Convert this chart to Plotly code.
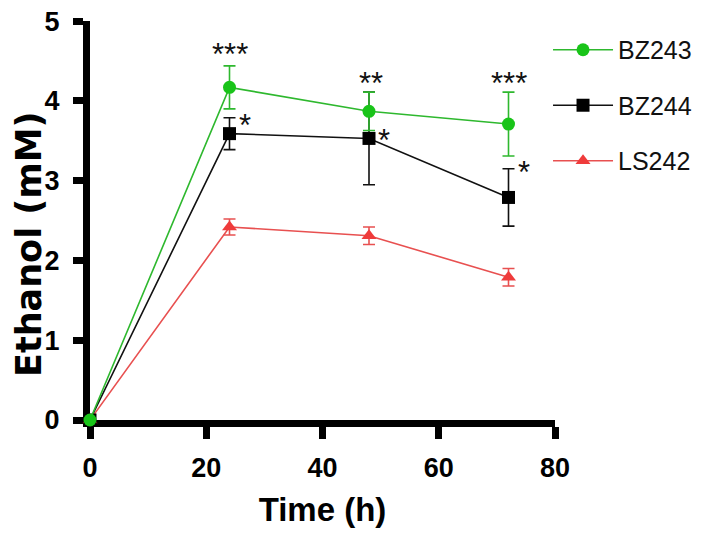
import plotly.graph_objects as go

# 数据：时间点与各菌株乙醇浓度 (mM)
time_h = [0, 24, 48, 72]

bz243_mean = [0.0, 4.17, 3.87, 3.71]
bz243_err = [0.0, 0.27, 0.24, 0.40]

bz244_mean = [0.0, 3.59, 3.53, 2.79]
bz244_err = [0.0, 0.20, 0.58, 0.36]

ls242_mean = [0.0, 2.42, 2.31, 1.79]
ls242_err = [0.0, 0.10, 0.11, 0.11]

# 显著性标记（文字, x, y）
sig_text = ["***", "*", "**", "*", "***", "*"]
sig_x = [24, 26.7, 48.4, 50.6, 72, 74.7]
sig_y = [4.69, 3.80, 4.33, 3.62, 4.33, 3.22]

TICK_FONT = "Liberation Sans, Arial, sans-serif"

series = [
    # name, mean, err, color, marker color, symbol, rank
    ("LS242", ls242_mean, ls242_err, "#e85050", "#ef3b3b", "triangle-up", 3),
    ("BZ244", bz244_mean, bz244_err, "#111111", "#000000", "square", 2),
    ("BZ243", bz243_mean, bz243_err, "#2eb82e", "#19c419", "circle", 1),
]

fig = go.Figure()
for name, mean, err, color, mcolor, symbol, rank in series:
    fig.add_trace(
        go.Scatter(
            x=time_h,
            y=mean,
            name=name,
            mode="lines+markers",
            line=dict(color=color, width=1.6),
            marker=dict(symbol=symbol, size=13, color=mcolor),
            error_y=dict(type="data", array=err, color=color, thickness=1.6, width=6),
            cliponaxis=False,
            legendrank=rank,
            legendgroup=name,
        )
    )

for t, x, y in zip(sig_text, sig_x, sig_y):
    fig.add_annotation(
        x=x, y=y, text=t, showarrow=False,
        font=dict(family="Liberation Sans, Arial, sans-serif", size=31, color="#111"),
        yshift=-9,
    )

# y 轴标题（原图略偏下）
fig.add_annotation(
    xref="paper", yref="paper", x=-0.13, y=0.44,
    text="Ethanol (mM)", textangle=-90, showarrow=False,
    xanchor="center", yanchor="middle",
    font=dict(family="DejaVu Sans, sans-serif", size=35, color="black", weight="bold"),
)

# 页面自带 8px 边距
fig.update_layout(
    width=701,
    height=535,
    margin=dict(l=82, r=154, t=13, b=123),
    plot_bgcolor="white",
    paper_bgcolor="white",
    legend=dict(
        x=0.985, y=0.985, xanchor="left", yanchor="top",
        bgcolor="rgba(0,0,0,0)",
        font=dict(family="Liberation Sans, Arial, sans-serif", size=25, color="#111"),
        tracegroupgap=20,
        itemwidth=60,
    ),
)
fig.update_xaxes(
    range=[0, 80],
    tickvals=[0, 20, 40, 60, 80],
    automargin=False,
    layer="below traces",
    showgrid=False,
    zeroline=False,
    showline=True,
    linecolor="black",
    linewidth=7,
    ticks="outside",
    ticklen=12,
    tickwidth=7,
    tickcolor="black",
    ticklabelstandoff=6,
    tickfont=dict(family=TICK_FONT, size=27, color="black", weight="bold"),
    title=dict(
        text="Time (h)",
        font=dict(family=TICK_FONT, size=33, color="black", weight="bold"),
        standoff=18,
    ),
)
fig.update_yaxes(
    range=[0, 5.002],
    tickvals=[0, 1, 2, 3, 4, 5],
    automargin=False,
    layer="below traces",
    showgrid=False,
    zeroline=False,
    showline=True,
    linecolor="black",
    linewidth=7,
    ticks="outside",
    ticklen=10,
    tickwidth=7,
    tickcolor="black",
    ticklabelstandoff=8,
    ticklabeloverflow="allow",
    tickfont=dict(family=TICK_FONT, size=27, color="black", weight="bold"),
)

fig.write_html("out.html")
